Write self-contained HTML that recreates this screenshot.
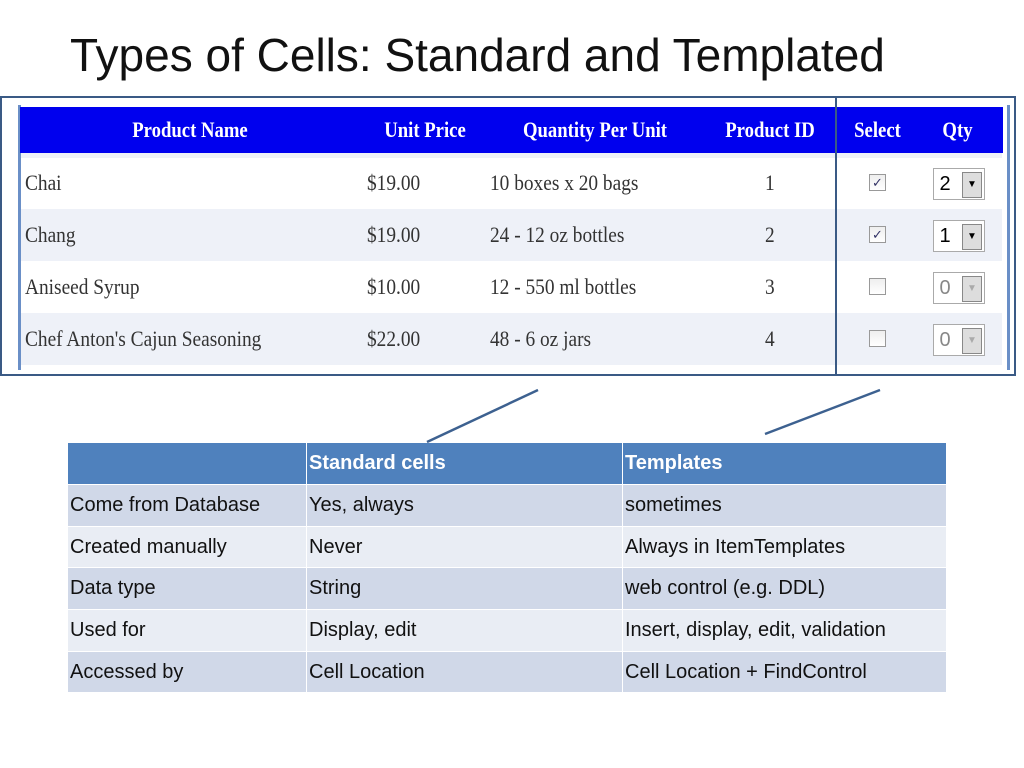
<!DOCTYPE html>
<html><head><meta charset="utf-8"><style>
body{margin:0;width:1024px;height:768px;background:#fff;position:relative;overflow:hidden;font-family:"Liberation Sans",sans-serif}
.a{position:absolute}
.ser{font-family:"Liberation Serif",serif;font-size:22px;color:#333;transform:scaleX(0.88);transform-origin:left center;white-space:nowrap}
.hd{font-family:"Liberation Serif",serif;font-size:22px;color:#fff;font-weight:bold;white-space:nowrap;transform:scaleX(0.85);transform-origin:center center;text-align:center}
.cell{position:absolute;font-size:20px;color:#111;line-height:40px;padding-left:2px;box-sizing:border-box;white-space:nowrap}
.cb{position:absolute;width:15px;height:15px;border:1px solid #999;background:linear-gradient(#eee,#fff);font-size:13px;color:#336;line-height:15px;text-align:center}
.dd{position:absolute;width:50px;height:30px;border:1px solid #aaa;background:#fff;font-family:"Liberation Sans",sans-serif;font-size:20px;line-height:30px}
.dd span{position:absolute;right:2px;top:3px;width:18px;height:24px;background:#ddd;border:1px solid #888;font-size:10px;text-align:center;line-height:24px}
</style></head><body>
<div class="a" style="left:70px;top:28px;font-size:46px;color:#111;white-space:nowrap">Types of Cells: Standard and Templated</div>

<!-- screenshot grid -->
<div class="a" style="left:18px;top:105px;width:986px;height:265px;background:#fff;border-left:3px solid #6a8fc7;border-right:3px solid #6a8fc7">
</div>
<div class="a" style="left:20px;top:107px;width:983px;height:46px;background:#0000ee"></div>
<div class="a" style="left:21px;top:209px;width:981px;height:52px;background:#eef1f8"></div>
<div class="a" style="left:21px;top:313px;width:981px;height:52px;background:#eef1f8"></div>
<div class="a" style="left:21px;top:153px;width:981px;height:5px;background:#eef1f8"></div>

<div class="a hd" style="left:90px;top:117px;width:200px">Product Name</div>
<div class="a hd" style="left:365px;top:117px;width:120px">Unit Price</div>
<div class="a hd" style="left:490px;top:117px;width:210px">Quantity Per Unit</div>
<div class="a hd" style="left:710px;top:117px;width:120px">Product ID</div>
<div class="a hd" style="left:840px;top:117px;width:75px">Select</div>
<div class="a hd" style="left:925px;top:117px;width:65px">Qty</div>

<div id="rows"></div>

<!-- boxes -->
<div class="a" style="left:0;top:96px;width:833px;height:276px;border:2px solid #3a5a85"></div>
<div class="a" style="left:835px;top:96px;width:177px;height:276px;border:2px solid #3a5a85"></div>

<svg class="a" style="left:0;top:0" width="1024" height="768">
<line x1="538" y1="390" x2="427" y2="442" stroke="#3d6190" stroke-width="2.5"/>
<line x1="880" y1="390" x2="765" y2="434" stroke="#3d6190" stroke-width="2.5"/>
</svg>

<div id="cmp"></div>

<script>
var products=["Chai","Chang","Aniseed Syrup","Chef Anton's Cajun Seasoning"];
var prices=["$19.00","$19.00","$10.00","$22.00"];
var qpu=["10 boxes x 20 bags","24 - 12 oz bottles","12 - 550 ml bottles","48 - 6 oz jars"];
var ids=["1","2","3","4"];
var sel=[true,true,false,false];
var qty=["2","1","0","0"];
var R=document.getElementById('rows');
function add(p,html,style,cls){var d=document.createElement('div');d.className=cls;d.style.cssText=style;d.innerHTML=html;p.appendChild(d);return d;}
for(var i=0;i<4;i++){
 var y=157+i*52;
 var e=add(R,products[i],'left:25px;top:'+(y+13)+'px','a ser');
 
 
 e=add(R,prices[i],'left:367px;top:'+(y+13)+'px','a ser');
 
 
 e=add(R,qpu[i],'left:490px;top:'+(y+13)+'px','a ser');
 
 
 e=add(R,ids[i],'left:765px;top:'+(y+13)+'px','a ser');
 
 
 e=add(R,sel[i]?'&#10003;':'','left:869px;top:'+(y+17)+'px','cb');
 
 
 e=add(R,'&nbsp;'+qty[i]+'<span>'+(sel[i]?'&#9660;':'<i style="color:#aaa;font-style:normal">&#9660;</i>')+'</span>','left:933px;top:'+(y+11)+'px;'+(sel[i]?'':'color:#888;background:#fff'),'dd');
 
 
}
var colLeft=[68,307,623];
var colW=[238,315,323];
var headers=["","Standard cells","Templates"];
var rowLabels=["Come from Database","Created manually","Data type","Used for","Accessed by"];
var stdVals=["Yes, always","Never","String","Display, edit","Cell Location"];
var tplVals=["sometimes","Always in ItemTemplates","web control (e.g. DDL)","Insert, display, edit, validation","Cell Location + FindControl"];
var C=document.getElementById('cmp');
var rowTop=[443,485,527,568,610,652];
var rowH=[41,41,40,41,41,40];
for(var c=0;c<3;c++){
 var d=add(C,headers[c],'left:'+colLeft[c]+'px;top:'+rowTop[0]+'px;width:'+colW[c]+'px;height:'+rowH[0]+'px;background:#4f81bd;color:#fff;font-weight:bold','cell');
 
 
}
for(var r=0;r<5;r++){
 var vals=[rowLabels[r],stdVals[r],tplVals[r]];
 for(var c=0;c<3;c++){
  var d=add(C,vals[c],'left:'+colLeft[c]+'px;top:'+rowTop[r+1]+'px;width:'+colW[c]+'px;height:'+rowH[r+1]+'px;background:'+(r%2==0?'#d0d8e8':'#e9edf4'),'cell');
  
  
 }
}
</script>
</body></html>
